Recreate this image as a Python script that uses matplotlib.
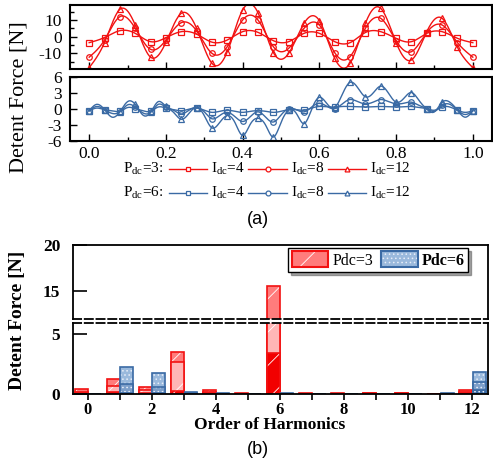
import numpy as np
import matplotlib
matplotlib.use('Agg')
import matplotlib.pyplot as plt
from matplotlib.lines import Line2D
from matplotlib.patches import Patch
from matplotlib.legend_handler import HandlerTuple

plt.rcParams['font.family'] = ['Liberation Serif', 'DejaVu Serif']
plt.rcParams['mathtext.fontset'] = 'custom'
plt.rcParams['mathtext.rm'] = 'Liberation Serif'
plt.rcParams['axes.unicode_minus'] = False
plt.rcParams['hatch.linewidth'] = 0.6

# ---------------- data (a) ----------------
pos_red = np.linspace(0, 1, 26)
red_I4 = [-3.6, -0.5, 3.6, 2.0, -3.0, -0.6, 3.0, 1.5, -3.3, -2.0, 3.0, 2.6, -2.4,
          -3.0, 2.0, 2.0, -3.0, -3.6, 2.5, 3.0, -1.0, -3.0, 2.0, 3.0, -1.0, -3.6]
red_I8 = [-12.3, -2.0, 12.0, 5.0, -7.6, -2.0, 8.4, 3.5, -10.0, -6.0, 10.0, 10.0, -6.0,
          -7.0, 5.0, 7.0, -9.6, -12.0, 5.0, 11.0, -2.5, -9.0, 2.5, 7.0, -3.6, -12.3]
red_I12 = [-18.6, -3.5, 16.4, 7.0, -12.3, -3.4, 14.0, 5.0, -16.0, -9.0, 16.0, 14.4, -9.5,
           -10.0, 8.0, 9.6, -13.0, -16.0, 8.0, 17.0, -3.5, -14.0, 3.0, 11.0, -6.4, -18.6]

pos_blue = np.linspace(0, 1, 51)
blue_I4 = [-0.3, 0.2, -0.1, -0.3, -0.4, 0.3, 0.1, -0.3, -0.4, 0.4, 0.2, -0.1, -0.3,
           0.0, 0.2, -0.2, -0.6, -0.4, -0.2, -0.4, -0.6, -0.4, -0.3, -0.4, -0.6, -0.4,
           -0.1, -0.1, -0.2, 0.2, 0.5, 0.45, 0.4, 0.5, 0.5, 0.45, 0.4, 0.45, 0.5, 0.45,
           0.4, 0.45, 0.5, 0.3, 0.1, -0.2, 0.4, 0.4, -0.2, -0.6, -0.3]
blue_I8 = [-0.3, 0.5, -0.1, -0.8, -0.5, 0.8, 0.4, -0.7, -0.6, 0.9, 0.4, -0.2, -0.9,
           -0.2, 0.3, -0.5, -1.8, -1.2, -0.6, -1.4, -2.3, -1.4, -0.5, -1.5, -2.4, -1.1,
           0.1, -0.1, -0.5, 0.4, 1.1, 0.5, 0.1, 1.0, 1.8, 1.4, 1.0, 1.3, 1.8, 1.4,
           1.0, 1.1, 1.3, 0.7, 0.1, -0.4, 0.7, 0.9, -0.2, -1.0, -0.3]
blue_I12 = [-0.3, 0.9, -0.1, -1.5, -0.5, 1.4, 0.9, -1.1, -0.6, 1.4, 0.5, -0.6, -1.9,
            -0.8, 0.3, -1.2, -3.5, -2.5, -1.2, -2.5, -4.9, -2.8, -1.7, -3.0, -5.2, -2.5,
            -0.2, -0.8, -2.7, 0.0, 2.2, 1.0, 0.3, 2.8, 5.0, 4.0, 2.3, 3.0, 4.3, 3.0,
            1.3, 2.0, 3.1, 1.6, 0.0, -0.5, 1.3, 1.3, -0.2, -1.5, -0.3]

# ---------------- data (b) ----------------
orders = np.arange(13)
p3_I12 = [0.42, 1.25, 0.55, 3.5, 0.3, 0.05, 15.5, 0.05, 0.05, 0.08, 0.08, 0.0, 0.3]
p3_I8 = [0.2, 0.67, 0.3, 2.7, 0.15, 0.03, 10.0, 0.03, 0.03, 0.05, 0.05, 0.0, 0.15]
p3_I4 = [0.05, 0.15, 0.08, 0.25, 0.05, 0.01, 3.4, 0.01, 0.01, 0.02, 0.02, 0.0, 0.05]
p6_I12 = [0.0, 2.28, 1.73, 0.15, 0.05, 0.04, 0.05, 0.04, 0.0, 0.0, 0.0, 0.05, 1.86]
p6_I8 = [0.0, 0.83, 0.6, 0.08, 0.03, 0.02, 0.03, 0.02, 0.0, 0.0, 0.0, 0.03, 1.0]
p6_I4 = [0.0, 0.12, 0.1, 0.03, 0.01, 0.01, 0.01, 0.01, 0.0, 0.0, 0.0, 0.01, 0.3]

RED = '#f21212'
BLUE = '#3a6aa4'


def spline(x, y, n=600):
    x = np.asarray(x, float)
    y = np.asarray(y, float)
    h = np.diff(x)
    N = len(x)
    A = np.zeros((N, N))
    b = np.zeros(N)
    A[0, 0] = A[-1, -1] = 1
    for i in range(1, N - 1):
        A[i, i - 1] = h[i - 1]
        A[i, i] = 2 * (h[i - 1] + h[i])
        A[i, i + 1] = h[i]
        b[i] = 3 * ((y[i + 1] - y[i]) / h[i] - (y[i] - y[i - 1]) / h[i - 1])
    c = np.linalg.solve(A, b)
    bb = (y[1:] - y[:-1]) / h - h * (2 * c[:-1] + c[1:]) / 3
    d = (c[1:] - c[:-1]) / (3 * h)
    xs = np.linspace(x[0], x[-1], n)
    idx = np.clip(np.searchsorted(x, xs, side='right') - 1, 0, N - 2)
    dx = xs - x[idx]
    ys = y[idx] + bb[idx] * dx + c[idx] * dx ** 2 + d[idx] * dx ** 3
    return xs, ys


W, H = 493, 466
fig = plt.figure(figsize=(W / 100, H / 100), dpi=100)


def fx(px):
    return px / W


def fy(py):
    return 1 - py / H


ax1 = fig.add_axes([fx(70), fy(69), fx(422), 64 / H])
ax2 = fig.add_axes([fx(70), fy(141.3), fx(422), 64.3 / H])

markers = ['s', 'o', '^']
for ser, m in zip([red_I4, red_I8, red_I12], markers):
    xs, ys = spline(pos_red, ser)
    ax1.plot(xs, ys, color=RED, lw=1.0)
    ax1.plot(pos_red, ser, ls='none', marker=m, ms=4, mfc='none', mec=RED, mew=0.9)

for ser, m in zip([blue_I4, blue_I8, blue_I12], markers):
    xs, ys = spline(pos_blue, ser)
    ax2.plot(xs, ys, color=BLUE, lw=1.0)
    ax2.plot(pos_blue[::2], ser[::2], ls='none', marker=m, ms=4, mfc='none', mec=BLUE, mew=0.9)

for ax in (ax1, ax2):
    ax.set_xlim(-0.05, 1.05)
    ax.set_xticks([0, 0.2, 0.4, 0.6, 0.8, 1.0])
    ax.set_xticks(np.arange(0.1, 1.0, 0.2), minor=True)
    for s in ax.spines.values():
        s.set_linewidth(1.5)
    ax.tick_params(which='both', direction='in', top=False, right=False, width=1.0,
                   labelsize=12.5, pad=6)
    ax.tick_params(which='major', length=5)
    ax.tick_params(which='minor', length=3)

ax1.set_ylim(-19.4, 19)
ax1.set_yticks([-10, 0, 10])
ax1.set_yticks([-15, -5, 5, 15], minor=True)
ax1.tick_params(labelbottom=False)
ax2.set_ylim(-6, 6)
ax2.set_yticks([-6, -3, 0, 3, 6])
ax2.set_xticklabels(['0.0', '0.2', '0.4', '0.6', '0.8', '1.0'])
ax2.tick_params(axis='x', pad=3.5)

fig.text(fx(19), fy(97), 'Detent Force [N]', rotation=90, ha='center', va='center', fontsize=16)

# legend for (a)
rows = [(169, RED, 'P$_{\\mathregular{dc}}$=3:'), (193, BLUE, 'P$_{\\mathregular{dc}}$=6:')]
labels_I = ['I$_{\\mathregular{dc}}$=4', 'I$_{\\mathregular{dc}}$=8', 'I$_{\\mathregular{dc}}$=12']
seg_x = [(169, 207), (248, 287), (328, 366)]
lab_x = [211, 291, 370]
for yy, col, title in rows:
    fig.text(fx(123), fy(yy), title, ha='left', va='center', fontsize=11)
    for (x0, x1), lx, lab, m in zip(seg_x, lab_x, labels_I, markers):
        fig.add_artist(Line2D([fx(x0), fx(x1)], [fy(yy), fy(yy)], color=col, lw=1.0,
                              transform=fig.transFigure))
        fig.add_artist(Line2D([fx((x0 + x1) / 2)], [fy(yy)], color=col, marker=m, ms=3.5,
                              mfc='white', mew=0.9, transform=fig.transFigure))
        fig.text(fx(lx), fy(yy), lab, ha='left', va='center', fontsize=11)

fig.text(fx(258), fy(220), '(a)', ha='center', va='center', fontsize=13,
         family='Liberation Sans')

# ---------------- (b) bars ----------------
ax_hi = fig.add_axes([fx(72.7), fy(319.3), fx(488 - 72.7), (319.3 - 245) / H])
ax_lo = fig.add_axes([fx(72.7), fy(394), fx(488 - 72.7), (394 - 322.7) / H])

red_faces = ['#ff7c7c', '#ffb6b6', '#f20000']
blue_faces = ['#9ab9dc', '#7d9fca', '#3a6aa4']
bw = 0.4
for ax in (ax_hi, ax_lo):
    for vals, fc in zip([p3_I12, p3_I8, p3_I4], red_faces):
        ax.bar(orders - 0.2, vals, width=bw, color=fc, edgecolor='white', lw=0, hatch='/')
        ax.bar(orders - 0.2, vals, width=bw, facecolor='none', edgecolor=RED, lw=1.2)
    for vals, fc in zip([p6_I12, p6_I8, p6_I4], blue_faces):
        ax.bar(orders + 0.22, vals, width=bw, color=fc, edgecolor='#e8eef8', lw=0, hatch='....')
        ax.bar(orders + 0.22, vals, width=bw, facecolor='none', edgecolor=BLUE, lw=1.2)
    ax.set_xlim(-0.47, 12.49)
    for s in ax.spines.values():
        s.set_linewidth(1.3)
    ax.tick_params(axis='y', direction='in', length=10, width=1.2, labelsize=12.5, pad=9)

ax_hi.set_ylim(11.92, 20)
ax_hi.set_yticks([15, 20])
ax_hi.set_yticklabels(['15', '20'], fontweight='bold')
ax_hi.tick_params(axis='x', bottom=False, labelbottom=False)
ax_hi.spines['bottom'].set_linestyle((0, (4.5, 2)))

ax_lo.set_ylim(0, 5.94)
ax_lo.set_yticks([0, 5])
ax_lo.set_yticklabels(['0', '5'], fontweight='bold')
ax_lo.spines['top'].set_linestyle((0, (4.5, 2)))
ax_lo.set_xticks([0, 2, 4, 6, 8, 10, 12])
ax_lo.set_xticks([1, 3, 5, 7, 9, 11], minor=True)
ax_lo.set_xticklabels(['0', '2', '4', '6', '8', '10', '12'], fontweight='bold')
ax_lo.tick_params(axis='x', which='both', direction='out', length=4, width=1.2,
                  labelsize=12, pad=1.5)

fig.text(fx(270), fy(425), 'Order of Harmonics', ha='center', va='center', fontsize=12.5,
         fontweight='bold')
fig.text(fx(17.5), fy(320), 'Detent Force [N]', rotation=90, ha='center', va='center',
         fontsize=14, fontweight='bold')
fig.text(fx(258), fy(450), '(b)', ha='center', va='center', fontsize=13,
         family='Liberation Sans')

h1 = (Patch(facecolor=red_faces[0], edgecolor='white', lw=0, hatch='/'),
      Patch(facecolor='none', edgecolor=RED, lw=1.5))
h2 = (Patch(facecolor=blue_faces[0], edgecolor='#e8eef8', lw=0, hatch='....'),
      Patch(facecolor='none', edgecolor=BLUE, lw=1.5))
leg = ax_hi.legend([h1, h2], ['Pdc=3', 'Pdc=6'], handler_map={tuple: HandlerTuple(ndivide=1)},
                   loc='upper right', bbox_to_anchor=(fx(468), fy(248)),
                   bbox_transform=fig.transFigure, ncol=2, fontsize=11.5, frameon=True,
                   fancybox=False, shadow=True, edgecolor='black', framealpha=1,
                   borderpad=0.2, borderaxespad=0, handlelength=2.3, handleheight=1.15,
                   handletextpad=0.25, columnspacing=0.5)
leg.get_frame().set_linewidth(1.0)
leg.get_texts()[1].set_fontweight('bold')

fig.savefig('out.png', dpi=100)
